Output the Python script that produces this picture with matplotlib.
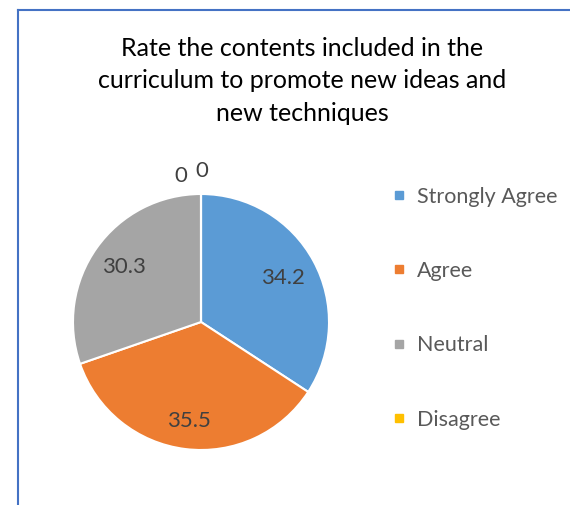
import numpy as np
import matplotlib

matplotlib.use("Agg")
import matplotlib.pyplot as plt  # noqa: E402
from matplotlib.lines import Line2D  # noqa: E402

plt.rcParams["font.family"] = ["Lato", "DejaVu Sans"]

categories = ["Strongly Agree", "Agree", "Neutral", "Disagree", "Strongly Disagree"]
values = [34.2, 35.5, 30.3, 0, 0]
value_labels = ["34.2", "35.5", "30.3", "0", "0"]
colors = ["#5B9BD5", "#ED7D31", "#A5A5A5", "#FFC000", "#4472C4"]
title = "Rate the contents included in the\ncurriculum to promote new ideas and\nnew techniques"

W, H = 570, 505
fig = plt.figure(figsize=(W / 100, H / 100), dpi=100)

# chart frame (cropped at right/bottom in the source)
fig.add_artist(Line2D([18 / W, 18 / W], [0, 1 - 10 / H], color="#4472C4", lw=1.5))
fig.add_artist(Line2D([18 / W, 1], [1 - 10 / H, 1 - 10 / H], color="#4472C4", lw=1.5))

fig.text(302 / W, 1 - 81 / H, title, ha="center", va="center", fontsize=18,
         color="black", linespacing=1.5)

cx, cy, r = 201, 322, 128
ax = fig.add_axes([(cx - r) / W, 1 - (cy + r) / H, 2 * r / W, 2 * r / H])
wedges, _ = ax.pie(values, colors=colors, startangle=90, counterclock=False,
                   radius=1, wedgeprops=dict(edgecolor="white", linewidth=1.5))
ax.set_xlim(-1, 1)
ax.set_ylim(-1, 1)
ax.set_aspect("equal")
ax.axis("off")

inner_dist = [0.73, 0.78, 0.74]
zero_offsets = [(-0.16, 1.14), (0.01, 1.18)]
zi = 0
for i, (w, lab) in enumerate(zip(wedges, value_labels)):
    if values[i] > 0:
        ang = np.deg2rad((w.theta1 + w.theta2) / 2)
        d = inner_dist[i]
        ax.text(d * np.cos(ang), d * np.sin(ang), lab, ha="center", va="center",
                fontsize=16, color="#404040")
    else:
        x, y = zero_offsets[zi]
        zi += 1
        ax.text(x, y, lab, ha="center", va="center", fontsize=16,
                color="#404040", clip_on=False)

handles = [Line2D([], [], marker="s", ls="", markersize=6, color=c) for c in colors[:4]]
fig.legend(handles, categories[:4], loc="upper left",
           bbox_to_anchor=(381 / W, 1 - 176 / H), frameon=False, fontsize=15.5,
           labelcolor="#595959", labelspacing=2.52, handlelength=0.7,
           handletextpad=0.45, borderpad=0)

fig.savefig("out.png", dpi=100)
